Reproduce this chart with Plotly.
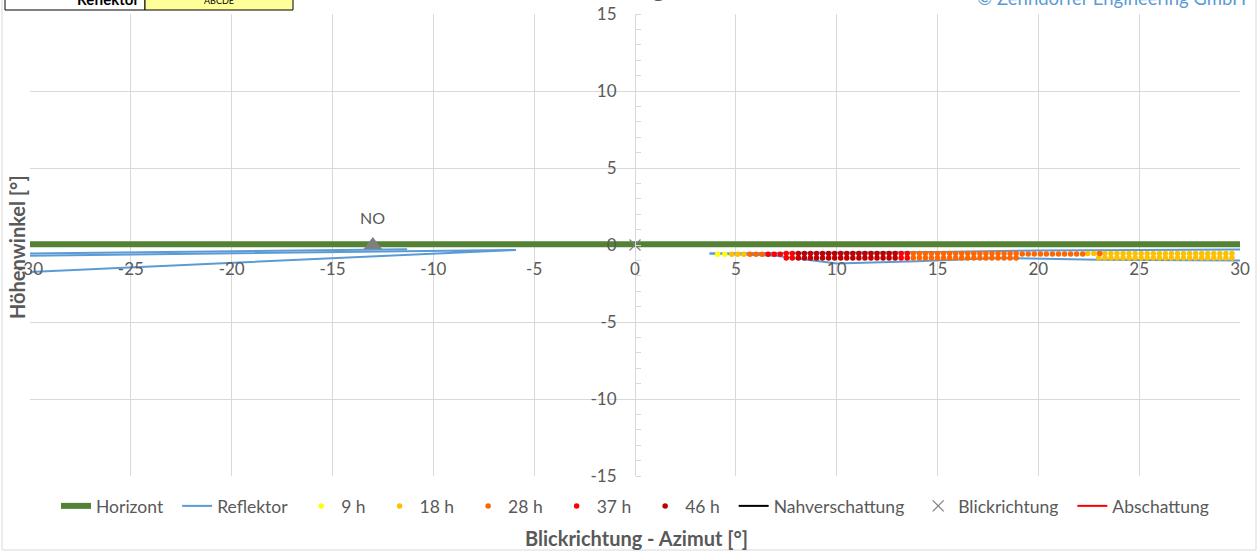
import plotly.graph_objects as go

# ---------------- data ----------------
horizont_x = [-30, 30]
horizont_y = [0.05, 0.05]

refl_x = [-30, -11.3, None, -30, -11.5, -5.9, -30, None,
          3.7, 7.0, 10.0, 14.0, 18.0, 23.0, 30.0, None,
          3.7, 10.0, 15.0, 20.0, 30.0]
refl_y = [-0.55, -0.28, None, -0.7, -0.4, -0.32, -1.75, None,
          -0.55, -0.7, -1.2, -1.05, -0.85, -0.95, -1.0, None,
          -0.55, -0.5, -0.45, -0.35, -0.3]

h9_x = [4.1, 4.45]
h9_y = [-0.6, -0.6]

h18_x = [4.8, 5.1, 5.4, 22.45, 22.75,
         23.0, 23.0, 23.3, 23.3, 23.6, 23.6, 23.9, 23.9, 24.2, 24.2, 24.5, 24.5,
         24.8, 24.8, 25.1, 25.1, 25.4, 25.4, 25.7, 25.7, 26.0, 26.0, 26.3, 26.3,
         26.6, 26.6, 26.9, 26.9, 27.2, 27.2, 27.5, 27.5, 27.8, 27.8, 28.1, 28.1,
         28.4, 28.4, 28.7, 28.7, 29.0, 29.0, 29.3, 29.3, 29.6, 29.6]
h18_y = [-0.6, -0.6, -0.6, -0.55, -0.55,
         -0.55, -0.85, -0.55, -0.85, -0.55, -0.85, -0.55, -0.85, -0.55, -0.85, -0.55, -0.85,
         -0.55, -0.85, -0.55, -0.85, -0.55, -0.85, -0.55, -0.85, -0.55, -0.85, -0.55, -0.85,
         -0.55, -0.85, -0.55, -0.85, -0.55, -0.85, -0.55, -0.85, -0.55, -0.85, -0.55, -0.85,
         -0.55, -0.85, -0.55, -0.85, -0.55, -0.85, -0.55, -0.85, -0.55, -0.85]

h28_x = [5.7, 6.0, 6.3,
         13.8, 13.8, 14.1, 14.1, 14.4, 14.4, 14.7, 14.7, 15.0, 15.0, 15.3, 15.3,
         15.6, 15.6, 15.9, 15.9, 16.2, 16.2, 16.5, 16.5, 16.8, 16.8, 17.1, 17.1,
         17.4, 17.4, 17.7, 17.7, 18.0, 18.0, 18.3, 18.3, 18.6, 18.6, 18.9, 18.9,
         19.2, 19.5, 19.8, 20.1, 20.4, 20.7, 21.0, 21.3, 21.6, 21.9, 22.2, 23.05]
h28_y = [-0.6, -0.6, -0.6,
         -0.55, -0.85, -0.55, -0.85, -0.55, -0.85, -0.55, -0.85, -0.55, -0.85, -0.55, -0.85,
         -0.55, -0.85, -0.55, -0.85, -0.55, -0.85, -0.55, -0.85, -0.55, -0.85, -0.55, -0.85,
         -0.55, -0.85, -0.55, -0.85, -0.55, -0.85, -0.55, -0.85, -0.55, -0.85, -0.55, -0.85,
         -0.58, -0.58, -0.58, -0.58, -0.58, -0.58, -0.58, -0.58, -0.58, -0.58, -0.58, -0.55]

h37_x = [6.6, 6.9, 7.2, 7.5, 7.5, 7.8, 7.8, 13.2, 13.2, 13.5, 13.5]
h37_y = [-0.6, -0.6, -0.6, -0.55, -0.85, -0.55, -0.85, -0.55, -0.85, -0.55, -0.85]

h46_x = [8.1, 8.1, 8.4, 8.4, 8.7, 8.7, 9.0, 9.0, 9.3, 9.3, 9.6, 9.6, 9.9, 9.9,
         10.2, 10.2, 10.5, 10.5, 10.8, 10.8, 11.1, 11.1, 11.4, 11.4, 11.7, 11.7,
         12.0, 12.0, 12.3, 12.3, 12.6, 12.6, 12.9, 12.9]
h46_y = [-0.55, -0.85, -0.55, -0.85, -0.55, -0.85, -0.55, -0.85, -0.55, -0.85, -0.55, -0.85, -0.55, -0.85,
         -0.55, -0.85, -0.55, -0.85, -0.55, -0.85, -0.55, -0.85, -0.55, -0.85, -0.55, -0.85,
         -0.55, -0.85, -0.55, -0.85, -0.55, -0.85, -0.55, -0.85]

blick_x = [0]
blick_y = [0]

no_x = [-13]
no_y = [0]
no_label = "NO"

x_range = [-30, 30]
y_range = [-15, 15]
x_tick_vals = [-30, -25, -20, -15, -10, -5, 0, 5, 10, 15, 20, 25, 30]
x_tick_text = ["-30", "-25", "-20", "-15", "-10", "-5", "0", "5", "10", "15", "20", "25", "30"]
y_tick_vals = [-15, -10, -5, 0, 5, 10, 15]
y_tick_text = ["-15", "-10", "-5", "0", "5", "10", "15"]

# ---------------- figure ----------------
FONT = "Lato"
GREY = "#595959"
PAD = "\u00a0\u00a0"

fig = go.Figure()
fig.add_trace(go.Scatter(x=horizont_x, y=horizont_y, mode="lines", name="Horizont" + PAD,
                         line=dict(color="#548235", width=6)))
fig.add_trace(go.Scatter(x=refl_x, y=refl_y, mode="lines", name="Reflektor" + PAD,
                         line=dict(color="#5B9BD5", width=2), connectgaps=False))
for xs, ys, nm, col in [(h9_x, h9_y, "9 h", "#FFFF00"),
                        (h18_x, h18_y, "18 h", "#FFC000"),
                        (h28_x, h28_y, "28 h", "#FF6600"),
                        (h37_x, h37_y, "37 h", "#FF0000"),
                        (h46_x, h46_y, "46 h", "#C00000")]:
    fig.add_trace(go.Scatter(x=xs, y=ys, mode="markers", name=nm + PAD,
                             marker=dict(color=col, size=5.5, line=dict(width=0))))
fig.add_trace(go.Scatter(x=[None], y=[None], mode="lines", name="Nahverschattung" + PAD,
                         line=dict(color="#000000", width=2)))
fig.add_trace(go.Scatter(x=blick_x, y=blick_y, mode="markers", name="Blickrichtung" + PAD,
                         marker=dict(symbol="x-thin", size=11, color="#7F7F7F",
                                     line=dict(color="#7F7F7F", width=1.2))))
fig.add_trace(go.Scatter(x=[None], y=[None], mode="lines", name="Abschattung",
                         line=dict(color="#FF0000", width=2)))
fig.add_trace(go.Scatter(x=no_x, y=no_y, mode="markers", showlegend=False,
                         marker=dict(symbol="triangle-up", size=16, color="#7F7F7F")))

# pixel helpers for paper coordinates
L, R, T, B = 30, 1240, 14, 476
def px(p):
    return (p - L) / (R - L)
def py(q):
    return (B - q) / (B - T)

fig.update_layout(
    width=1259, height=553,
    margin=dict(l=L, r=1259 - R, t=T, b=553 - B, autoexpand=False),
    paper_bgcolor="white", plot_bgcolor="white",
    font=dict(family=FONT, color=GREY, size=14),
    showlegend=True,
    legend=dict(orientation="h", x=0.5, xanchor="center", y=py(506), yanchor="middle",
                font=dict(size=17.5, color=GREY), bgcolor="rgba(0,0,0,0)",
                itemwidth=30, tracegroupgap=0),
    xaxis=dict(range=x_range, tickmode="array", tickvals=x_tick_vals, ticktext=x_tick_text,
               anchor="free", position=0.5, automargin=False,
               showgrid=True, gridcolor="#D9D9D9", gridwidth=1, zeroline=False,
               showline=False, ticks="", ticklabelstandoff=12,
               tickfont=dict(size=17, color=GREY)),
    yaxis=dict(range=y_range, tickmode="array", tickvals=y_tick_vals, ticktext=y_tick_text,
               anchor="free", position=0.5, automargin=False,
               showgrid=True, gridcolor="#D9D9D9", gridwidth=1, zeroline=False,
               showline=True, linecolor="#D9D9D9", linewidth=1, ticks="",
               ticklabelstandoff=15, tickfont=dict(size=17, color=GREY),
               minor=dict(dtick=1, tick0=0, ticks="inside", ticklen=5, tickcolor="#D9D9D9",
                          showgrid=False)),
    shapes=[
        dict(type="rect", xref="paper", yref="paper", x0=px(2), x1=px(1256),
             y0=py(550), y1=py(-5), line=dict(color="#D9D9D9", width=1),
             fillcolor="rgba(0,0,0,0)", layer="below"),
        dict(type="rect", xref="paper", yref="paper", x0=px(5), x1=px(145),
             y0=py(10), y1=py(-15), line=dict(color="#000000", width=1),
             fillcolor="white"),
        dict(type="rect", xref="paper", yref="paper", x0=px(145), x1=px(293),
             y0=py(10), y1=py(-15), line=dict(color="#000000", width=1),
             fillcolor="#FFFF99"),
    ],
    annotations=[
        dict(text="<b>Höhenwinkel [°]</b>", xref="paper", yref="paper",
             x=px(17), y=py(247), textangle=-90, showarrow=False,
             font=dict(size=20, color=GREY), xanchor="center", yanchor="middle"),
        dict(text="<b>Blickrichtung - Azimut [°]</b>", xref="paper", yref="paper",
             x=px(636), y=py(538), showarrow=False,
             font=dict(size=20, color=GREY), xanchor="center", yanchor="middle"),
        dict(text="© Zehndorfer Engineering GmbH", xref="paper", yref="paper",
             x=px(1248), y=py(-2), showarrow=False, xanchor="right", yanchor="middle",
             font=dict(size=18.5, color="#5B9BD5")),
        dict(text="<b>Blendung Süd</b>", xref="paper", yref="paper",
             x=0.5, y=py(-13), showarrow=False, xanchor="center", yanchor="middle",
             font=dict(size=26, color=GREY)),
        dict(text="<b>Reflektor</b>", xref="paper", yref="paper",
             x=px(141), y=py(-1), showarrow=False, xanchor="right", yanchor="middle",
             font=dict(size=15, color="#000000")),
        dict(text="ABCDE", xref="paper", yref="paper",
             x=px(219), y=py(1), showarrow=False, xanchor="center", yanchor="middle",
             font=dict(size=9, color="#000000")),
        dict(text=no_label, x=no_x[0], y=no_y[0], xref="x", yref="y",
             showarrow=False, yshift=28, font=dict(size=16, color=GREY)),
    ],
)

fig.write_html("out.html")
